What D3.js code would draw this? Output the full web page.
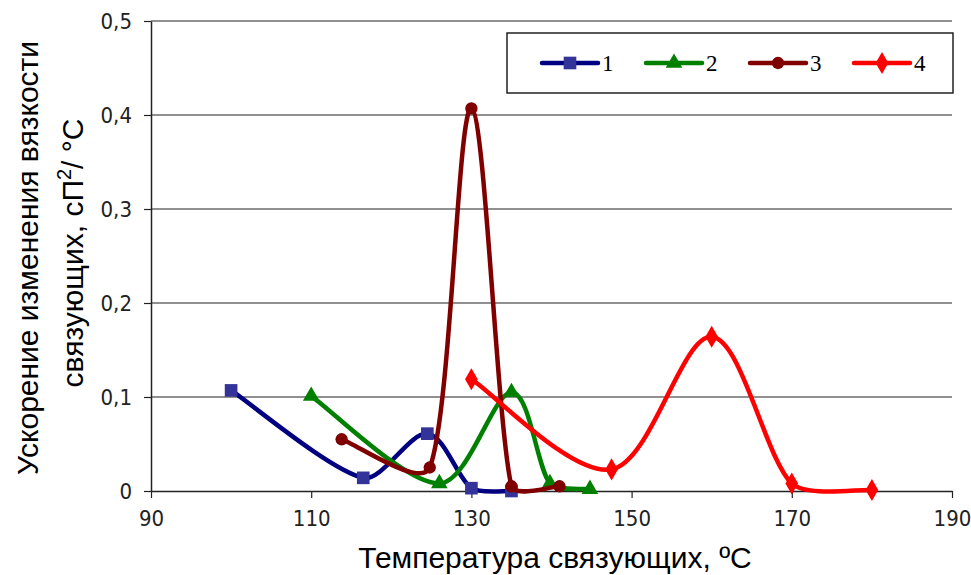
<!DOCTYPE html>
<html>
<head>
<meta charset="utf-8">
<script src="https://d3js.org/d3.v7.min.js"></script>
<style>
  body { margin: 0; background: #fff; }
  svg text { font-family: "Liberation Sans", Arial, sans-serif; }
</style>
</head>
<body>
<div id="chart"></div>
<script>
// data
var xTicks = [90, 110, 130, 150, 170, 190];
var yTicks = [0, 0.1, 0.2, 0.3, 0.4, 0.5];
var seriesNames = ["1", "2", "3", "4"];

var s1x = [100, 116.5, 124.5, 130, 135];
var s1y = [0.107, 0.014, 0.061, 0.003, 0.0];
var s2x = [110, 126, 135, 139.8, 144.8];
var s2y = [0.101, 0.008, 0.105, 0.008, 0.002];
var s3x = [113.8, 124.8, 130, 135, 141];
var s3y = [0.055, 0.025, 0.407, 0.005, 0.005];
var s4x = [130, 147.5, 160, 170, 180];
var s4y = [0.119, 0.023, 0.164, 0.008, 0.001];

var lineColors = ["#000080", "#008000", "#800000", "#ff0000"];
var markColors = ["#333399", "#008000", "#800000", "#ff0000"];
var markShapes = [d3.symbolSquare, d3.symbolTriangle, d3.symbolCircle, d3.symbolDiamond];
var markSizes = [160, 120, 120, 140];

var W = 971, H = 575;
var margin = {top: 21, right: 19, bottom: 84, left: 151};
var width = W - margin.left - margin.right,
    height = H - margin.top - margin.bottom;

// smoothed line: catmull-rom tangents (1/6), but a handle never longer
// than a quarter of its segment, so short segments don't overshoot
function SmoothCurve(context) { this._context = context; }
SmoothCurve.prototype = {
  areaStart: function() {}, areaEnd: function() {},
  lineStart: function() { this._p = []; },
  point: function(x, y) { this._p.push([+x, +y]); },
  lineEnd: function() {
    var p = this._p, n = p.length, c = this._context, k = 0.25;
    if (!n) return;
    c.moveTo(p[0][0], p[0][1]);
    if (n < 3) { for (var m = 1; m < n; m++) c.lineTo(p[m][0], p[m][1]); return; }
    var tan = p.map(function(d, i) {
      var a = p[Math.max(i - 1, 0)], b = p[Math.min(i + 1, n - 1)];
      return [(b[0] - a[0]) / 6, (b[1] - a[1]) / 6];
    });
    function clamp(v, len) {
      var l = Math.hypot(v[0], v[1]);
      return l > k * len ? [v[0] * k * len / l, v[1] * k * len / l] : v;
    }
    for (var i = 0; i < n - 1; i++) {
      var seg = Math.hypot(p[i+1][0] - p[i][0], p[i+1][1] - p[i][1]),
          t0 = clamp(tan[i], seg), t1 = clamp(tan[i+1], seg);
      c.bezierCurveTo(p[i][0] + t0[0], p[i][1] + t0[1],
                      p[i+1][0] - t1[0], p[i+1][1] - t1[1],
                      p[i+1][0], p[i+1][1]);
    }
  }
};
var smoothCurve = function(context) { return new SmoothCurve(context); };

var svg = d3.select("#chart").append("svg")
    .attr("width", W)
    .attr("height", H);

var g = svg.append("g")
    .attr("transform", "translate(" + margin.left + "," + margin.top + ")");

var x = d3.scaleLinear().domain([90, 190]).range([0, width]);
var y = d3.scaleLinear().domain([0, 0.5]).range([height, 0]);

// grid lines
g.append("g")
  .selectAll("line")
  .data(yTicks.filter(function(d) { return d > 0; }))
  .enter().append("line")
    .attr("x1", 0).attr("x2", width)
    .attr("y1", function(d) { return y(d); })
    .attr("y2", function(d) { return y(d); })
    .attr("stroke", "#222")
    .attr("stroke-width", 1.2);

var fmt = function(d) { return d === 0 ? "0" : d3.format(".1f")(d).replace(".", ","); };

// axes
var xAxis = g.append("g")
    .attr("transform", "translate(0," + height + ")")
    .call(d3.axisBottom(x).tickValues(xTicks).tickSize(7).tickSizeOuter(0).tickPadding(12));
var yAxis = g.append("g")
    .call(d3.axisLeft(y).tickValues(yTicks).tickFormat(fmt).tickSize(7).tickSizeOuter(0).tickPadding(12));

[xAxis, yAxis].forEach(function(a) {
  a.select(".domain").attr("stroke", "#222").attr("stroke-width", 1.5);
  a.selectAll(".tick line").attr("stroke", "#222").attr("stroke-width", 1.2);
  a.selectAll(".tick text")
    .style("font-family", "'Liberation Sans Narrow', 'DejaVu Sans Condensed', sans-serif")
    .style("font-size", "22px")
    .attr("fill", "#222");
});

// series
var allSeries = [[s1x, s1y], [s2x, s2y], [s3x, s3y], [s4x, s4y]];

var line = d3.line()
    .curve(smoothCurve)
    .x(function(d) { return x(d[0]); })
    .y(function(d) { return y(d[1]); });

allSeries.forEach(function(s, i) {
  var pts = s[0].map(function(v, j) { return [v, s[1][j]]; });
  g.append("path")
    .datum(pts)
    .attr("fill", "none")
    .attr("stroke", lineColors[i])
    .attr("stroke-width", 4.5)
    .attr("stroke-linejoin", "round")
    .attr("d", line);
  g.append("g")
    .selectAll("path")
    .data(pts)
    .enter().append("path")
      .attr("transform", function(d) { return "translate(" + x(d[0]) + "," + y(d[1]) + ")"; })
      .attr("d", d3.symbol().type(markShapes[i]).size(markSizes[i]))
      .attr("fill", markColors[i]);
});

// legend
var legend = svg.append("g").attr("transform", "translate(507,33)");
legend.append("rect")
    .attr("width", 446).attr("height", 60)
    .attr("fill", "#fff").attr("stroke", "#222").attr("stroke-width", 1.5);

seriesNames.forEach(function(name, i) {
  var lx = 35 + i * 104;
  var e = legend.append("g").attr("transform", "translate(" + lx + ",30)");
  e.append("line")
    .attr("x1", 0).attr("x2", 56)
    .attr("stroke", lineColors[i]).attr("stroke-width", 4.5)
    .attr("stroke-linecap", "round");
  e.append("path")
    .attr("transform", "translate(28,0)")
    .attr("d", d3.symbol().type(markShapes[i]).size(markSizes[i]))
    .attr("fill", markColors[i]);
  e.append("text")
    .attr("x", 60).attr("y", 8)
    .style("font-family", "'Liberation Serif', serif")
    .style("font-size", "23px")
    .text(name);
});

// axis titles
svg.append("text")
    .attr("x", 555)
    .attr("y", 568)
    .attr("text-anchor", "middle")
    .style("font-size", "30px")
    .text("Температура связующих, ºС");

var yt = svg.append("text")
    .attr("transform", "translate(0,258) rotate(-90)")
    .attr("text-anchor", "middle")
    .style("font-size", "30px");
yt.append("tspan").attr("x", 0).attr("y", 38).text("Ускорение изменения вязкости");
yt.append("tspan").attr("x", 5).attr("y", 83).text("связующих, сП");
yt.append("tspan").attr("dy", -12).style("font-size", "20px").text("2");
yt.append("tspan").attr("dy", 12).text("/ °С");
</script>
</body>
</html>
